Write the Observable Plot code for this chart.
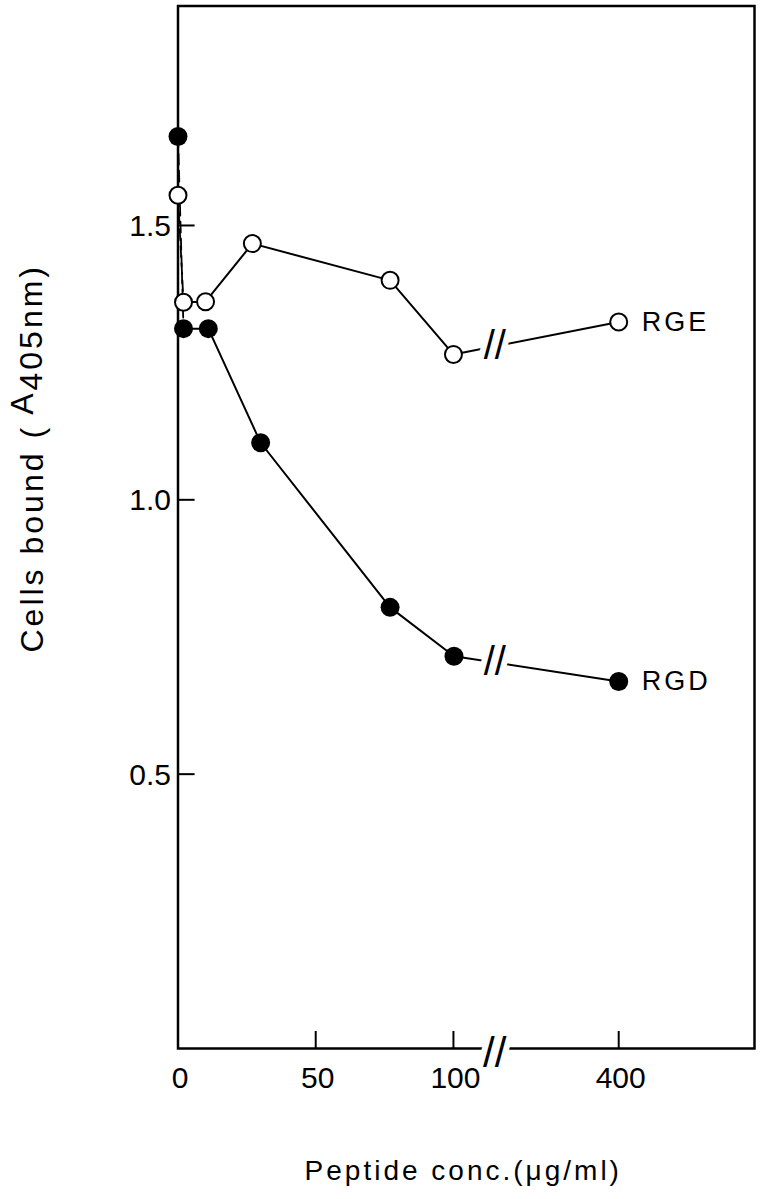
<!DOCTYPE html>
<html><head><meta charset="utf-8">
<script src="https://cdn.jsdelivr.net/npm/d3@7"></script>
<script src="https://cdn.jsdelivr.net/npm/@observablehq/plot@0.6"></script>
<style>
html,body{margin:0;padding:0;background:#fff;}
</style></head><body>
<script>
// ---- data ----
const xTickValues = [0, 50, 100, 400];
const yTickValues = [0.5, 1.0, 1.5];
const rgeConc = [0, 2, 10, 27, 77, 100, 400];
const rgeA    = [1.555, 1.360, 1.361, 1.467, 1.400, 1.265, 1.324];
const rgdConc = [0, 2, 11, 30, 77, 101, 400];
const rgdA    = [1.662, 1.312, 1.312, 1.104, 0.804, 0.715, 0.669];
const seriesNames = ["RGE", "RGD"];
const xTitle = "Peptide conc.(μg/ml)";
const yTitleParts = ["Cells bound ( ", "A", "405nm", ")"];
const yTitle = yTitleParts.join("");

// broken axis: 0–100 linear, then break, 400 placed further right
const pos = d3.scaleLinear().domain([0, 100, 400]).range([0, 100, 160]);
const breakPos = 115;
const xMax = 209.3;
const yMax = 1.9;

const rge = rgeConc.map((c, i) => ({series: "RGE", conc: c, a: rgeA[i], p: pos(c), i}));
const rgd = rgdConc.map((c, i) => ({series: "RGD", conc: c, a: rgdA[i], p: pos(c), i}));

function breakY(s) {
  const a = s[s.length - 2], b = s[s.length - 1];
  return a.a + (breakPos - a.p) / (b.p - a.p) * (b.a - a.a);
}
const lineBreaks = [{p: breakPos, a: breakY(rge)}, {p: breakPos, a: breakY(rgd)}];
const axisBreak = [{p: breakPos, a: 0}];
const lastPoints = [rge[rge.length - 1], rgd[rgd.length - 1]];

const font = "'Liberation Sans', Arial, Helvetica, sans-serif";

const svg = Plot.plot({
  width: 761,
  height: 1199,
  marginLeft: 177.5,
  marginRight: 7,
  marginTop: 5.5,
  marginBottom: 151,
  x: {domain: [0, xMax], axis: null},
  y: {domain: [0, yMax], axis: null},
  style: {fontFamily: font, background: "white", color: "black"},
  marks: [
    Plot.frame({stroke: "black", strokeWidth: 2.5}),
    // inward ticks
    Plot.ruleX(xTickValues.filter(d => d > 0), {x: d => pos(d), y1: 0, y2: 0.031, stroke: "black", strokeWidth: 2}),
    Plot.ruleY(yTickValues, {y: d => d, x1: 0, x2: 6.2, stroke: "black", strokeWidth: 2}),
    // tick labels
    Plot.text(xTickValues, {x: d => pos(d), y: 0, text: d => String(d), dy: 30, dx: 2, fontSize: 30, lineAnchor: "middle", fill: "black"}),
    Plot.text(yTickValues, {x: 0, y: d => d, text: d => d.toFixed(1), textAnchor: "end", dx: -7, dy: 1, fontSize: 30, lineAnchor: "middle", fill: "black"}),
    // dashed first segments
    Plot.line(rge.slice(0, 2), {x: "p", y: "a", stroke: "black", strokeWidth: 1.8, strokeDasharray: "11,6"}),
    Plot.line(rgd.slice(0, 2), {x: "p", y: "a", stroke: "black", strokeWidth: 1.8, strokeDasharray: "11,6"}),
    // solid lines
    Plot.line(rge.slice(1), {x: "p", y: "a", stroke: "black", strokeWidth: 2}),
    Plot.line(rgd.slice(1), {x: "p", y: "a", stroke: "black", strokeWidth: 2}),
    // break marks (white halo cuts the line, then the slashes)
    Plot.text(axisBreak, {x: "p", y: "a", text: () => "//", fontSize: 42, dy: 5, fill: "white", stroke: "white", strokeWidth: 12, lineAnchor: "middle"}),
    Plot.text(axisBreak, {x: "p", y: "a", text: () => "//", fontSize: 42, dy: 5, fill: "black", lineAnchor: "middle"}),
    Plot.text(lineBreaks, {x: "p", y: "a", text: () => "//", fontSize: 40, fill: "white", stroke: "white", strokeWidth: 12, lineAnchor: "middle"}),
    Plot.text(lineBreaks, {x: "p", y: "a", text: () => "//", fontSize: 40, fill: "black", lineAnchor: "middle"}),
    // markers
    Plot.dot(rge, {x: "p", y: "a", r: 8.5, fill: "white", stroke: "black", strokeWidth: 2}),
    Plot.dot(rgd, {x: "p", y: "a", r: 9.5, fill: "black", stroke: "none"}),
    // series labels
    Plot.text(lastPoints, {x: "p", y: "a", text: "series", dx: 23, textAnchor: "start", fontSize: 27, lineAnchor: "middle", fill: "black"}),
    // axis titles
    Plot.text([xTitle], {frameAnchor: "bottom", text: d => d, dy: 123, dx: -3, fontSize: 28, lineAnchor: "middle", fill: "black"}),
    Plot.text([yTitle], {frameAnchor: "left", text: d => d, rotate: -90, dx: -145, dy: -69, fontSize: 32, lineAnchor: "middle", fill: "black"})
  ]
});

document.body.appendChild(svg);

// text finishing: spacing of the old typesetting, raised "A" in the y title
const ns = "http://www.w3.org/2000/svg";
for (const t of Array.from(svg.querySelectorAll("text"))) {
  const s = t.textContent;
  if (s === xTitle) {
    t.style.letterSpacing = "3px";
  } else if (seriesNames.includes(s)) {
    t.style.letterSpacing = "3px";
  } else if (s === yTitle) {
    t.textContent = "";
    const shifts = [null, -10, 9, null];
    yTitleParts.forEach((part, i) => {
      const e = document.createElementNS(ns, "tspan");
      e.textContent = part;
      if (shifts[i] !== null) e.setAttribute("dy", shifts[i]);
      t.appendChild(e);
    });
    t.style.letterSpacing = "3px";
    t.setAttribute("text-anchor", "start");
    const len = t.getComputedTextLength();
    t.setAttribute("x", -len / 2);
  }
}
</script>
</body></html>
